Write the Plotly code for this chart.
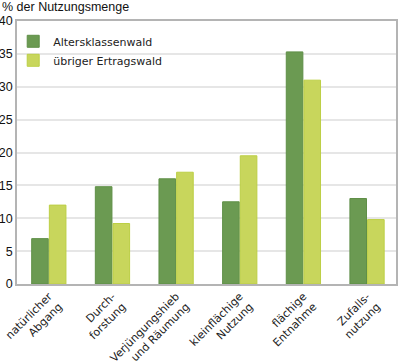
import plotly.graph_objects as go

categories = ["natürlicher<br>Abgang", "Durch-<br>forstung", "Verjüngungshieb<br>und Räumung",
              "kleinflächige<br>Nutzung", "flächige<br>Entnahme", "Zufalls-<br>nutzung"]
altersklassenwald = [6.9, 14.8, 16.0, 12.5, 35.3, 13.0]
uebriger_ertragswald = [12.0, 9.2, 17.0, 19.5, 31.0, 9.8]
y_ticks = [0, 5, 10, 15, 20, 25, 30, 35, 40]

fig = go.Figure()
fig.add_trace(go.Bar(name="Altersklassenwald", x=categories, y=altersklassenwald,
                     marker=dict(color="#6b9a52", line=dict(color="#5f8f47", width=1))))
fig.add_trace(go.Bar(name="übriger Ertragswald", x=categories, y=uebriger_ertragswald,
                     marker=dict(color="#c8d65c", line=dict(color="#bccf45", width=1))))

fig.update_layout(
    width=400, height=364,
    margin=dict(l=17, r=4, t=21, b=80),
    paper_bgcolor="white", plot_bgcolor="white",
    barmode="group", bargap=0.445, bargroupgap=0.06,
    showlegend=True,
    legend=dict(x=-0.01, y=0.978, xanchor="left", yanchor="top",
                bgcolor="rgba(0,0,0,0)", font=dict(family="DejaVu Sans", size=11, color="#222"),
                tracegroupgap=0),
    xaxis=dict(range=[-0.5, 5.455], tickangle=-45, showgrid=False, automargin=False,
               showline=True, mirror=True, linecolor="#b4b4b4", linewidth=1.5,
               ticks="", tickfont=dict(family="DejaVu Sans", size=11, color="#222")),
    yaxis=dict(range=[0, 40], tickvals=y_ticks, showgrid=True, gridcolor="#e6e6e6", gridwidth=1.5,
               showline=True, mirror=True, linecolor="#b4b4b4", linewidth=1.5, zeroline=False,
               ticks="", ticklabelstandoff=0, automargin=False,
               tickfont=dict(family="Liberation Sans", size=12.5, color="#111")),
    annotations=[dict(text="% der Nutzungsmenge", xref="paper", yref="paper", x=-0.045, y=1.0,
                      xanchor="left", yanchor="middle", yshift=14, showarrow=False,
                      font=dict(family="Liberation Sans", size=12.5, color="#111"))],
)

fig.write_html("out.html", config={"displayModeBar": False},
               post_script="document.body.style.margin='0';")
